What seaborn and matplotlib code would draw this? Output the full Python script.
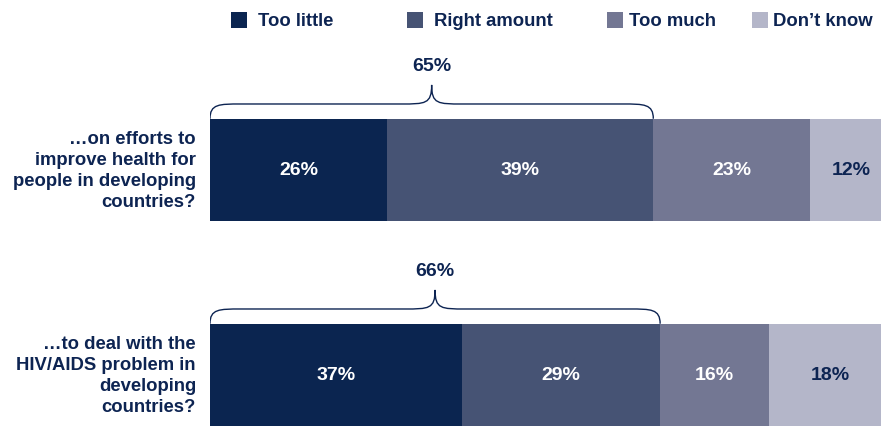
import matplotlib.pyplot as plt
import seaborn as sns
import pandas as pd
from matplotlib.path import Path
from matplotlib.patches import PathPatch, Rectangle

preguntas = ["…on efforts to\nimprove health for\npeople in developing\ncountries?",
             "…to deal with the\nHIV/AIDS problem in\ndeveloping\ncountries?"]
categorias = ["Too little", "Right amount", "Too much", "Don’t know"]
too_little = [26, 37]
right_amount = [39, 29]
too_much = [23, 16]
dont_know = [12, 18]
totales_llave = [65, 66]

colores = ["#0b2550", "#465374", "#737793", "#b4b6c9"]
color_texto = "#0d2452"

sns.set_theme(style="white")
plt.rcParams['font.family'] = ['Liberation Sans', 'DejaVu Sans']

series = [too_little, right_amount, too_much, dont_know]
filas = []
for i, pregunta in enumerate(preguntas):
    acumulado = 0
    for cat, valores in zip(categorias, series):
        inicio = acumulado
        acumulado += valores[i]
        filas.append({"pregunta": pregunta, "categoria": cat, "valor": valores[i],
                      "inicio": inicio, "fin": acumulado})
df = pd.DataFrame(filas)

fig = plt.figure(figsize=(8.81, 4.27), dpi=100)
ax = fig.add_axes([210 / 881, 0, 671 / 881, 1])

# barras apiladas: se dibuja el acumulado, del mayor al menor
for cat, color in reversed(list(zip(categorias, colores))):
    sub = df[df["categoria"] == cat]
    sns.barplot(data=sub, x="fin", y="pregunta", order=preguntas, color=color,
                saturation=1, width=0.5, orient="h", linewidth=0, ax=ax)

ax.set_xlim(0, 671 / 6.82)
ax.set_ylim(256 / 205, -171 / 205)
ax.axis("off")

# etiquetas dentro de las barras
for _, r in df.iterrows():
    y = preguntas.index(r["pregunta"])
    c = color_texto if r["categoria"] == "Don’t know" else "white"
    ax.text((r["inicio"] + r["fin"]) / 2, y, f"{r['valor']}%", ha="center", va="center",
            color=c, fontsize=14, fontweight="bold")

# preguntas a la izquierda
for i, pregunta in enumerate(preguntas):
    ax.text(-14 / 6.82, i, pregunta, ha="right", va="center", color=color_texto,
            fontsize=13.3, fontweight="bold", linespacing=1.33)


def llave(ax, x0, x1, y_base, y_h, y_punta, d=4.5):
    xm = (x0 + x1) / 2
    verts = [(x0, y_base),
             (x0, y_h), (x0 + d * 0.3, y_h), (x0 + d, y_h),
             (xm - d, y_h),
             (xm - d * 0.2, y_h), (xm, y_h), (xm, y_punta),
             (xm, y_h), (xm + d * 0.2, y_h), (xm + d, y_h),
             (x1 - d, y_h),
             (x1 - d * 0.3, y_h), (x1, y_h), (x1, y_base)]
    codes = [Path.MOVETO,
             Path.CURVE4, Path.CURVE4, Path.CURVE4,
             Path.LINETO,
             Path.CURVE4, Path.CURVE4, Path.CURVE4,
             Path.CURVE4, Path.CURVE4, Path.CURVE4,
             Path.LINETO,
             Path.CURVE4, Path.CURVE4, Path.CURVE4]
    ax.add_patch(PathPatch(Path(verts, codes), facecolor="none",
                           edgecolor=color_texto, linewidth=1))


for i, total in enumerate(totales_llave):
    llave(ax, 0, total, i - 0.25, i - 0.322, i - 0.415)
    ax.text(total / 2, i - 0.51, f"{total}%", ha="center", va="center",
            color=color_texto, fontsize=14, fontweight="bold")

# leyenda manual
pos_cuadros = [231, 407, 607, 752]
pos_textos = [258, 434, 629, 773]
for x, xt, cat, color in zip(pos_cuadros, pos_textos, categorias, colores):
    fig.patches.append(Rectangle((x / 881, 1 - 29 / 427), 16 / 881, 16 / 427,
                                 transform=fig.transFigure, facecolor=color,
                                 edgecolor="none"))
    fig.text(xt / 881, 1 - 21 / 427, cat, ha="left", va="center",
             color=color_texto, fontsize=13.3, fontweight="bold")

fig.savefig("out.png", dpi=100)
